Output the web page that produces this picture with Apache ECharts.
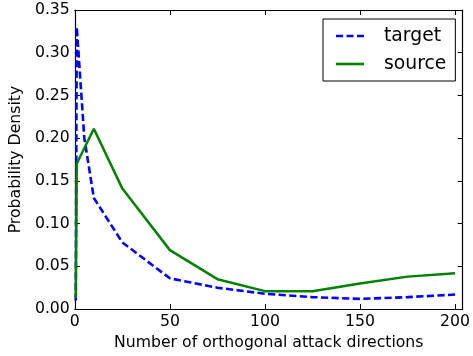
<!DOCTYPE html>
<html>
<head>
<meta charset="utf-8">
<script src="https://cdn.jsdelivr.net/npm/echarts@6/dist/echarts.min.js"></script>
<style>html,body{margin:0;padding:0;background:#fff;}#c{width:473px;height:356px;}</style>
</head>
<body>
<div id="c"></div>
<script>
var targetX = [0.5, 1, 5, 10, 25, 50, 75, 100, 125, 150, 175, 200];
var targetY = [0.010, 0.330, 0.200, 0.130, 0.078, 0.036, 0.025, 0.018, 0.014, 0.012, 0.014, 0.017];
var sourceX = [0.5, 1, 10, 25, 50, 75, 100, 125, 150, 175, 200];
var sourceY = [0.013, 0.170, 0.211, 0.141, 0.069, 0.035, 0.021, 0.021, 0.030, 0.038, 0.042];
var xTicks = [0, 50, 100, 150, 200];
var yTicks = ['0.00','0.05','0.10','0.15','0.20','0.25','0.30','0.35'];

function pairs(xs, ys){ return xs.map(function(x,i){ return [x, ys[i]]; }); }
var FONT = 'DejaVu Sans';
var FS = 15.7;
var chart = echarts.init(document.getElementById('c'));
var tickStyle = {show:true, inside:true, length:5, lineStyle:{color:'#000', width:1}};
var lineStyleAx = {show:true, onZero:false, lineStyle:{color:'#000', width:1.2}};
var dashIcon = 'path://M0,0H7V2H0Z M10.5,0H17.5V2H10.5Z M21,0H28V2H21Z';
var solidIcon = 'path://M0,0H28V2H0Z';
chart.setOption({
  animation:false,
  backgroundColor:'#fff',
  textStyle:{fontFamily:FONT},
  grid:{left:72, right:8, top:10, bottom:43, containLabel:false},
  legend:{
    left:323, top:19, orient:'vertical',
    borderColor:'#000', borderWidth:1, borderRadius:0,
    backgroundColor:'#fff',
    padding:[6,9,6,13],
    itemWidth:28, itemHeight:2.6, itemGap:6, symbolKeepAspect:false,
    textStyle:{fontFamily:FONT, fontSize:18.8, color:'#000', lineHeight:22, padding:[0,0,0,15]},
    data:[{name:'target', icon:dashIcon},{name:'source', icon:solidIcon}]
  },
  xAxis:[{
    type:'value', min:0, max:204, interval:50,
    name:'Number of orthogonal attack directions', nameLocation:'middle', nameGap:24,
    nameTextStyle:{fontFamily:FONT, fontSize:FS, color:'#000'},
    axisLine:lineStyleAx, axisTick:tickStyle, splitLine:{show:false},
    axisLabel:{fontFamily:FONT, fontSize:FS, color:'#000', margin:5,
      formatter:function(v){ return xTicks.indexOf(v) >= 0 ? String(v) : ''; }}
  },{
    type:'value', min:0, max:204, interval:50, position:'top',
    axisLine:lineStyleAx, axisTick:tickStyle, splitLine:{show:false}, axisLabel:{show:false}
  }],
  yAxis:[{
    type:'value', min:0, max:0.35, interval:0.05,
    name:'Probability Density', nameLocation:'middle', nameGap:41,
    nameTextStyle:{fontFamily:FONT, fontSize:FS, color:'#000'},
    axisLine:lineStyleAx, axisTick:tickStyle, splitLine:{show:false},
    axisLabel:{fontFamily:FONT, fontSize:FS, color:'#000', margin:5,
      formatter:function(v){ var i = Math.round(v/0.05); return yTicks[i] !== undefined ? yTicks[i] : ''; }}
  },{
    type:'value', min:0, max:0.35, interval:0.05, position:'right',
    axisLine:lineStyleAx, axisTick:tickStyle, splitLine:{show:false}, axisLabel:{show:false}
  }],
  series:[{
    name:'target', type:'line', data:pairs(targetX, targetY),
    showSymbol:false, symbol:'none', clip:true,
    lineStyle:{color:'#0000ff', width:2.6, type:[7.2,3.4]},
    itemStyle:{color:'#0000ff'}
  },{
    name:'source', type:'line', data:pairs(sourceX, sourceY),
    showSymbol:false, symbol:'none', clip:true,
    lineStyle:{color:'#008000', width:2.5, type:'solid'},
    itemStyle:{color:'#008000'}
  }]
});
</script>
</body>
</html>
